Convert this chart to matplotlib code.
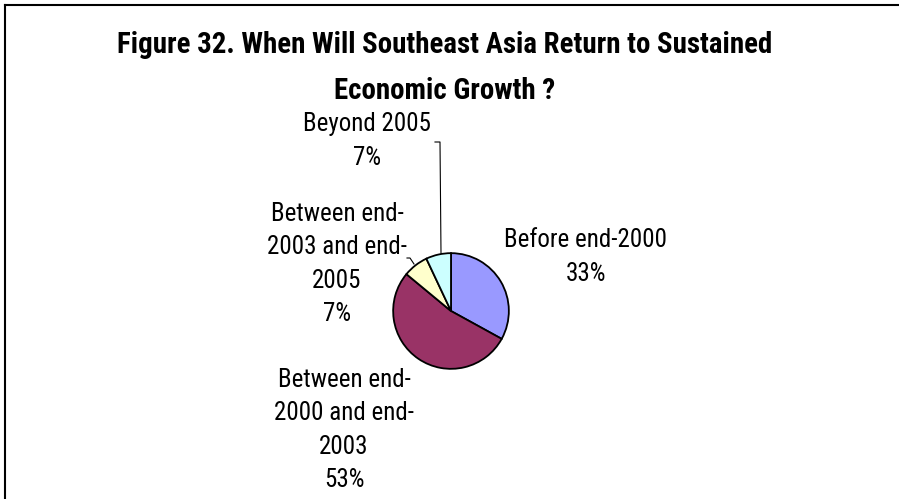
import matplotlib
matplotlib.use("Agg")
import matplotlib.pyplot as plt

plt.rcParams['font.family'] = ['Roboto Condensed', 'Archivo Narrow', 'DejaVu Sans']

categories = ['Before end-2000', 'Between end-2000 and end-2003',
              'Between end-2003 and end-2005', 'Beyond 2005']
shares = [33, 53, 7, 7]
label_texts = ['Before end-2000', 'Between end-\n2000 and end-\n2003',
               'Between end-\n2003 and end-\n2005', 'Beyond 2005']
colors = ['#9999FF', '#993366', '#FFFFCC', '#CCFFFF']

W, H = 899, 499
fig = plt.figure(figsize=(W / 100, H / 100), dpi=100)


def px(x, y):
    return x / W, 1 - y / H


# frame (open to the right and bottom)
fig.add_artist(plt.Line2D([5 / W, 1], [1 - 5 / H] * 2, color='black', lw=1.5))
fig.add_artist(plt.Line2D([5 / W] * 2, [0, 1 - 5 / H], color='black', lw=1.5))

fig.text(*px(445, 53), 'Figure 32. When Will Southeast Asia Return to Sustained',
         ha='center', va='baseline', fontsize=20.8, fontweight='bold')
fig.text(*px(445, 99), 'Economic Growth ?',
         ha='center', va='baseline', fontsize=20.8, fontweight='bold')

cx, cy, r = 451, 311, 59
ax = fig.add_axes([(cx - r) / W, 1 - (cy + r) / H, 2 * r / W, 2 * r / H])
ax.pie(shares, colors=colors, startangle=90, counterclock=False,
       wedgeprops=dict(edgecolor='black', linewidth=1.3))
ax.set_xlim(-1.02, 1.02)
ax.set_ylim(-1.02, 1.02)
ax.set_aspect('equal')
ax.axis('off')

# data labels: category name plus share
label_pos = [(586, 257), (344, 430), (337, 264), (367, 141)]
for txt, val, (x, y) in zip(label_texts, shares, label_pos):
    fig.text(*px(x, y), f'{txt}\n{val}%', ha='center', va='center', fontsize=18,
             linespacing=1.5)

# leader lines
fig.add_artist(plt.Line2D([435 / W, 440 / W, 441 / W],
                          [1 - 142 / H, 1 - 142 / H, 1 - 253 / H],
                          color='black', lw=0.8))
fig.add_artist(plt.Line2D([407 / W, 410 / W, 414 / W],
                          [1 - 258 / H, 1 - 258 / H, 1 - 264 / H],
                          color='black', lw=0.8))

fig.savefig('out.png', dpi=100)
